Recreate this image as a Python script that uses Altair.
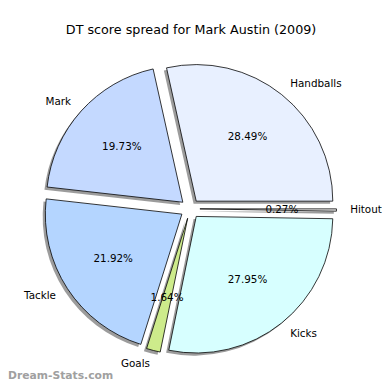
import math
import altair as alt
import pandas as pd

# ---- data ----
labels = ["Handballs", "Mark", "Tackle", "Goals", "Kicks", "Hitout"]
values = [28.49, 19.73, 21.92, 1.64, 27.95, 0.27]
colors = ["#E8F0FF", "#C4D9FF", "#B4D5FF", "#CDEB8B", "#D7FFFF", "#F0F0F0"]
title_text = "DT score spread for Mark Austin (2009)"
watermark = "Dream-Stats.com"

# ---- layout parameters (pixels in chart space) ----
W, H = 382, 382
CX, CY = 186, 201
R = 139.5
EXPLODE = 10
SH = 2.7  # shadow offset

df = pd.DataFrame({"label": labels, "value": values, "order": list(range(len(labels))), "color": colors})

base = (
    alt.Chart(df)
    .transform_joinaggregate(total="sum(value)")
    .transform_window(cum="sum(value)", sort=[alt.SortField("order")], frame=[None, 0])
    .transform_calculate(
        a1="2*PI*(datum.cum - datum.value)/datum.total",
        a2="2*PI*datum.cum/datum.total",
    )
    .transform_calculate(
        mid="(datum.a1 + datum.a2)/2",
        t1="PI/2 - datum.a2",
        t2="PI/2 - datum.a1",
    )
    .transform_calculate(
        ex=f"{CX} + {EXPLODE}*cos(datum.mid)",
        ey=f"{CY} - {EXPLODE}*sin(datum.mid)",
    )
    .transform_calculate(
        sx=f"datum.ex - {SH}",
        sy=f"datum.ey + {SH}",
        lx=f"datum.ex + {1.1*R}*cos(datum.mid)",
        ly=f"datum.ey - {1.1*R}*sin(datum.mid)",
        px=f"datum.ex + {0.6*R}*cos(datum.mid)",
        py=f"datum.ey - {0.6*R}*sin(datum.mid)",
        pct="format(100*datum.value/datum.total, '.2f') + '%'",
        right="cos(datum.mid) > 0",
    )
)

shadow = base.mark_arc(radius=R, fill="#3a3a3a", opacity=0.5).encode(
    x=alt.X("sx:Q", scale=None, axis=None),
    y=alt.Y("sy:Q", scale=None, axis=None),
    theta=alt.Theta("t1:Q", scale=None),
    theta2=alt.Theta2("t2:Q"),
)

slices = base.mark_arc(radius=R, stroke="black", strokeWidth=0.8).encode(
    x=alt.X("ex:Q", scale=None, axis=None),
    y=alt.Y("ey:Q", scale=None, axis=None),
    theta=alt.Theta("t1:Q", scale=None),
    theta2=alt.Theta2("t2:Q"),
    fill=alt.Fill("color:N", scale=None),
)

font = "DejaVu Sans"
FS = 10.6
lab_left = base.transform_filter("datum.right").mark_text(
    align="left", baseline="middle", fontSize=FS, font=font, color="black"
).encode(x=alt.X("lx:Q", scale=None, axis=None), y=alt.Y("ly:Q", scale=None, axis=None), text="label:N")
lab_right = base.transform_filter("!datum.right").mark_text(
    align="right", baseline="middle", fontSize=FS, font=font, color="black"
).encode(x=alt.X("lx:Q", scale=None, axis=None), y=alt.Y("ly:Q", scale=None, axis=None), text="label:N")
pcts = base.mark_text(
    align="center", baseline="middle", fontSize=FS, font=font, color="black"
).encode(x=alt.X("px:Q", scale=None, axis=None), y=alt.Y("py:Q", scale=None, axis=None), text="pct:N")

title = alt.Chart(pd.DataFrame({"t": [title_text]})).mark_text(
    align="center", baseline="middle", fontSize=13, font=font, color="black"
).encode(text="t:N", x=alt.value(187), y=alt.value(18))

wm = alt.Chart(pd.DataFrame({"t": [watermark]})).mark_text(
    align="left", baseline="middle", fontSize=11, font=font, fontWeight="bold", color="#a0a0a0"
).encode(text="t:N", x=alt.value(0), y=alt.value(372))

chart = (
    alt.layer(shadow, slices, lab_left, lab_right, pcts, title, wm)
    .properties(width=W, height=H, padding=0, autosize=alt.AutoSizeParams(type="none"))
    .configure_view(stroke=None)
)

chart.save("out.html", embed_options={"renderer": "svg", "actions": False})
